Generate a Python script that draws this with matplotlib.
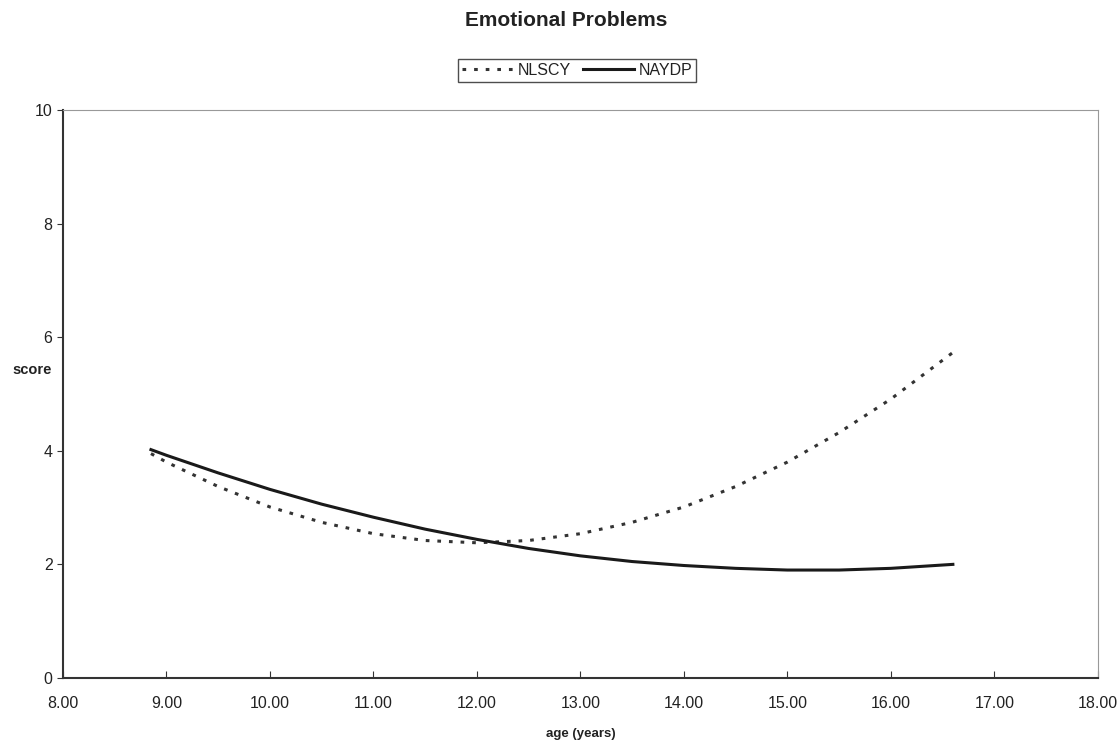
import matplotlib.pyplot as plt

# valores
age = [8.85, 9.0, 9.5, 10.0, 10.5, 11.0, 11.5, 12.0, 12.5, 13.0, 13.5,
       14.0, 14.5, 15.0, 15.5, 16.0, 16.6]
nlscy = [3.95, 3.80, 3.37, 3.01, 2.74, 2.54, 2.42, 2.38, 2.42, 2.54, 2.74,
         3.01, 3.37, 3.80, 4.32, 4.91, 5.73]
naydp = [4.02, 3.92, 3.61, 3.32, 3.06, 2.83, 2.62, 2.44, 2.28, 2.15, 2.05,
         1.98, 1.93, 1.90, 1.90, 1.93, 2.00]

x_ticks = [8, 9, 10, 11, 12, 13, 14, 15, 16, 17, 18]
y_ticks = [0, 2, 4, 6, 8, 10]

plt.rcParams['font.family'] = ['Liberation Sans', 'DejaVu Sans']

fig = plt.figure(figsize=(11.19, 7.42), dpi=100)
ax = fig.add_axes([0.0563, 0.0863, 0.9247, 0.7655])

ax.plot(age, nlscy, color='#333333', linewidth=2.2, linestyle=(0, (1.2, 2.6)),
        dash_capstyle='butt', label='NLSCY')
ax.plot(age, naydp, color='#1a1a1a', linewidth=2.2, label='NAYDP')

ax.set_xlim(8, 18)
ax.set_ylim(0, 10)
ax.set_xticks(x_ticks)
ax.set_xticklabels(['%.2f' % v for v in x_ticks])
ax.set_yticks(y_ticks)
ax.tick_params(axis='x', direction='in', length=5, labelsize=11.5, pad=13,
               color='#333333', labelcolor='#222222')
ax.tick_params(axis='y', direction='out', length=4, labelsize=11.5,
               color='#333333', labelcolor='#222222')

for side in ['top', 'right']:
    ax.spines[side].set_color('#999999')
    ax.spines[side].set_linestyle((0, (2, 1)))
    ax.spines[side].set_linewidth(0.8)
for side in ['left', 'bottom']:
    ax.spines[side].set_color('#333333')
    ax.spines[side].set_linewidth(1.5)

ax.set_xlabel('age (years)', fontsize=9.5, fontweight='bold', labelpad=12,
              color='#222222')
ax.set_ylabel('score', fontsize=10.5, fontweight='bold', rotation=0,
              ha='center', va='center', color='#222222')
ax.yaxis.set_label_coords(-0.030, 0.542)

fig.text(0.506, 0.973, 'Emotional Problems', ha='center', va='center',
         fontsize=15, fontweight='bold', color='#222222')

leg = ax.legend(loc='center', bbox_to_anchor=(0.497, 1.070), ncol=2,
                frameon=True, fancybox=False, fontsize=11.5, handlelength=3.2,
                columnspacing=0.7, handletextpad=0.3, borderpad=0.25)
leg.get_frame().set_edgecolor('#222222')
leg.get_frame().set_linewidth(1.0)
for t in leg.get_texts():
    t.set_color('#222222')

fig.savefig('out.png', dpi=100)
